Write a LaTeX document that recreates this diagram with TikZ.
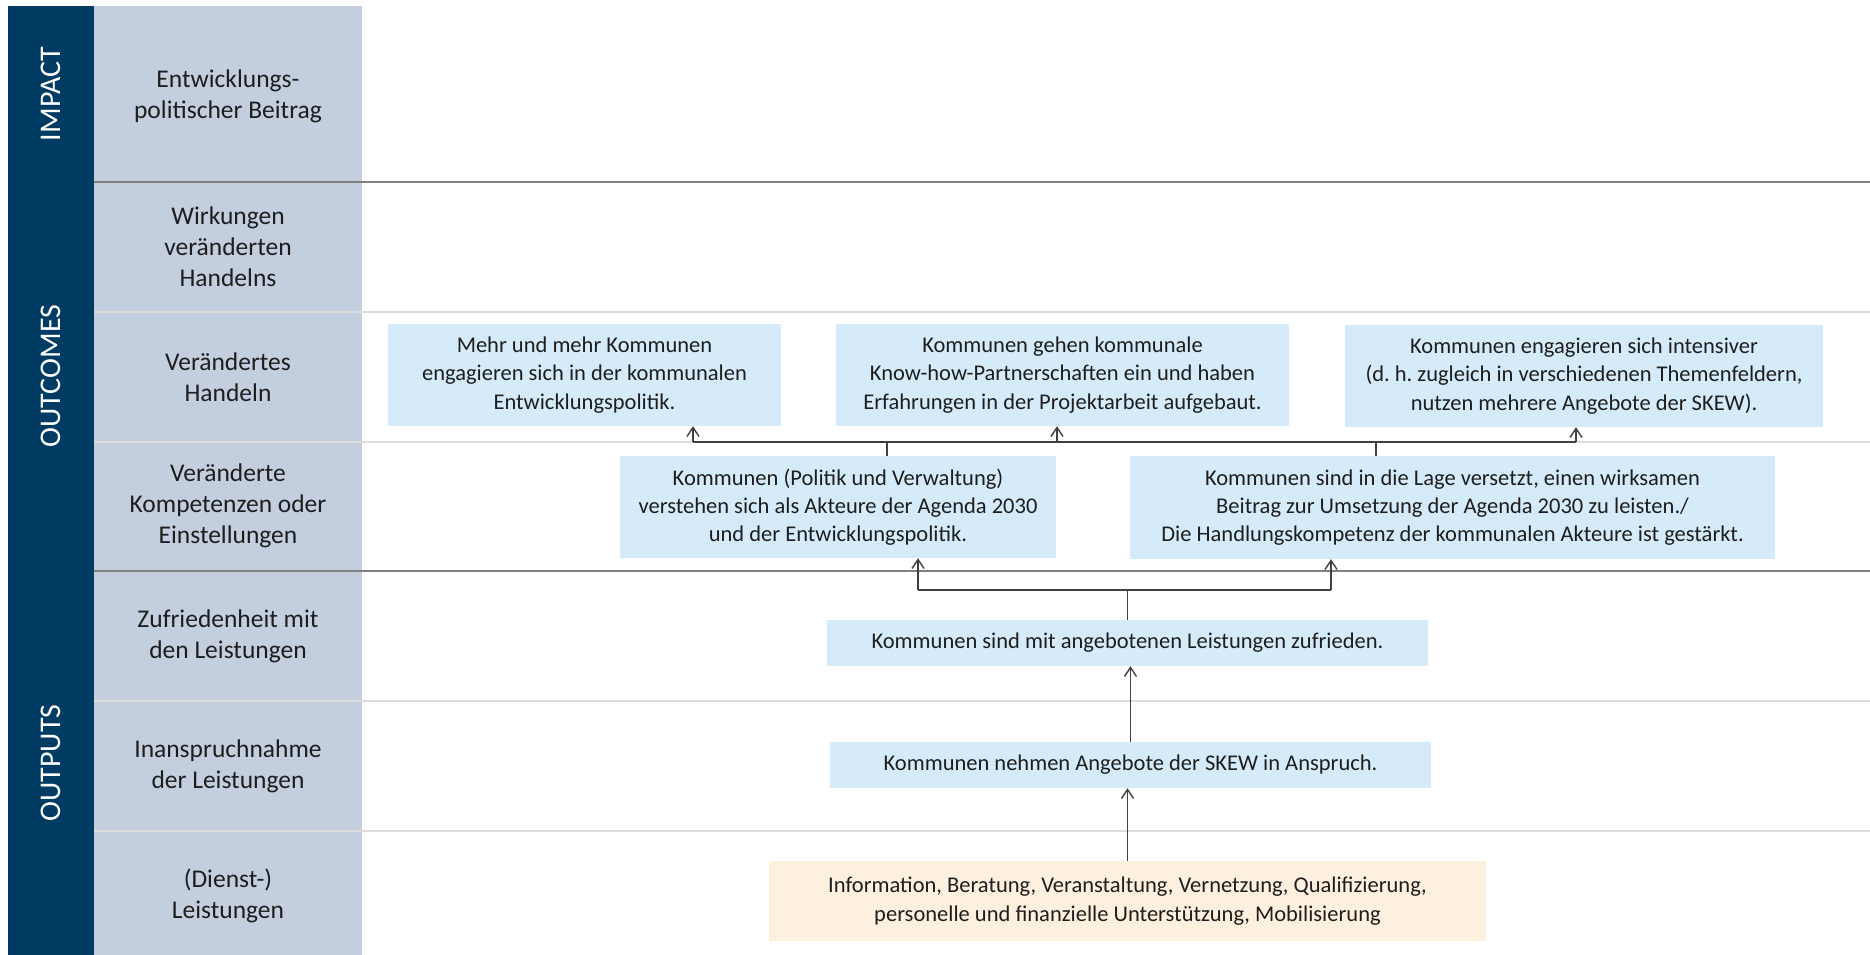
\documentclass[tikz,border=0pt]{standalone}
\usepackage{fontspec}
\setmainfont{Carlito}
\frenchspacing
\usepackage{tikz}
\usetikzlibrary{positioning, arrows.meta}
\definecolor{navy}{HTML}{003B64}
\definecolor{levelgrey}{HTML}{C3CEDF}
\definecolor{boxblue}{HTML}{D5EBFA}
\definecolor{boxsand}{HTML}{FDF0DF}
\definecolor{rulegrey}{HTML}{808080}
\definecolor{ruleline}{HTML}{DCDCDC}
\definecolor{inkgrey}{HTML}{1E1E1E}
\tikzstyle{effect} = [rectangle, fill=boxblue, inner sep=0pt, align=center, text=inkgrey, font=\fontsize{22.5}{28.3}\selectfont]
\tikzstyle{service} = [effect, fill=boxsand]
\tikzstyle{rowlabel} = [align=center, text=inkgrey, font=\fontsize{25.5}{31}\selectfont]
\tikzstyle{stage} = [rotate=90, text=white, font=\fontsize{30}{36}\selectfont]
\tikzstyle{arrow} = [line width=1.4pt, draw=inkgrey!85, -{Straight Barb[length=9pt,width=12pt]}]
\tikzstyle{wire} = [line width=1.4pt, draw=inkgrey!85]

\begin{document}
\begin{tikzpicture}[x=1pt, y=-1pt]
        \useasboundingbox (0,0) rectangle (1870,955);
        % left columns
        \fill[navy] (8,6) rectangle (94,955);
        \fill[levelgrey] (94,6) rectangle (362,955);
        % row rules
        \foreach \y in {312,442,701,831}
            \draw[ruleline, line width=2pt] (94,\y) -- (1870,\y);
        \foreach \y in {182,571}
            \draw[rulegrey, line width=2pt] (94,\y) -- (1870,\y);

        \node (impact) [stage] at (51,94) {IMPACT};
        \node (outcomes) [stage] at (51,376) {OUTCOMES};
        \node (outputs) [stage] at (51,763) {OUTPUTS};

        \node (beitrag) [rowlabel] at (228,96) {Entwicklungs-\\politischer Beitrag};
        \node (wirkungen) [rowlabel] at (228,247) {Wirkungen\\veränderten\\Handelns};
        \node (handeln) [rowlabel] at (228,377) {Verändertes\\Handeln};
        \node (kompetenzen) [rowlabel] at (228,506) {Veränderte\\Kompetenzen oder\\Einstellungen};
        \node (zufriedenheit) [rowlabel] at (228,636) {Zufriedenheit mit\\den Leistungen};
        \node (inanspruchnahme) [rowlabel] at (228,766) {Inanspruchnahme\\der Leistungen};
        \node (dienst) [rowlabel] at (228,896) {(Dienst-)\\Leistungen};

        \node (mehr) [effect, minimum width=393pt, minimum height=102pt] at (584.5,375) {Mehr und mehr Kommunen\\engagieren sich in der kommunalen\\Entwicklungspolitik.};
        \node (knowhow) [effect, minimum width=453pt, minimum height=102pt] at (1062.5,375) {Kommunen gehen kommunale\\Know-how-Partnerschaften ein und haben\\Erfahrungen in der Projektarbeit aufgebaut.};
        \node (intensiv) [effect, minimum width=478pt, minimum height=102pt] at (1584,376) {Kommunen engagieren sich intensiver\\(d.~h. zugleich in verschiedenen Themenfeldern,\\nutzen mehrere Angebote der SKEW).};
        \node (akteure) [effect, minimum width=436pt, minimum height=102pt] at (838,507) {Kommunen (Politik und Verwaltung)\\verstehen sich als Akteure der Agenda 2030\\und der Entwicklungspolitik.};
        \node (lage) [effect, minimum width=645pt, minimum height=103pt] at (1452.5,507.5) {Kommunen sind in die Lage versetzt, einen wirksamen\\Beitrag zur Umsetzung der Agenda 2030 zu leisten./\\Die Handlungskompetenz der kommunalen Akteure ist gestärkt.};
        \node (zufrieden) [effect, minimum width=601pt, minimum height=46pt] at (1127.5,643) {Kommunen sind mit angebotenen Leistungen zufrieden.};
        \node (anspruch) [effect, minimum width=601pt, minimum height=46pt] at (1130.5,765) {Kommunen nehmen Angebote der SKEW in Anspruch.};
        \node (angebote) [service, minimum width=717pt, minimum height=80pt] at (1127.5,901) {Information, Beratung, Veranstaltung, Vernetzung, Qualifizierung,\\personelle und finanzielle Unterstützung, Mobilisierung};

        % upper bus
        \coordinate (upA) at (693,442);
        \coordinate (upB) at (1057,442);
        \coordinate (upC) at (1576,442);
        \coordinate (upD) at (887,442);
        \coordinate (upE) at (1376,442);
        \draw [wire] (upA) -- (upC);
        \draw [wire] (upD |- akteure.north) -- (upD);
        \draw [wire] (upE |- lage.north) -- (upE);
        \draw [arrow] (upA) -- (upA |- mehr.south);
        \draw [arrow] (upB) -- (upB |- knowhow.south);
        \draw [arrow] (upC) -- (upC |- intensiv.south);

        % lower bus
        \coordinate (lowD) at (918,590);
        \coordinate (lowE) at (1331,590);
        \draw [wire] (lowD) -- (lowE);
        \draw [wire] (zufrieden.north) -- (zufrieden.north |- lowD);
        \draw [arrow] (lowD) -- (lowD |- akteure.south);
        \draw [arrow] (lowE) -- (lowE |- lage.south);

        \draw [arrow] (anspruch.north) -- (anspruch.north |- zufrieden.south);
        \draw [arrow] (angebote.north) -- (angebote.north |- anspruch.south);

        \end{tikzpicture}
\end{document}
